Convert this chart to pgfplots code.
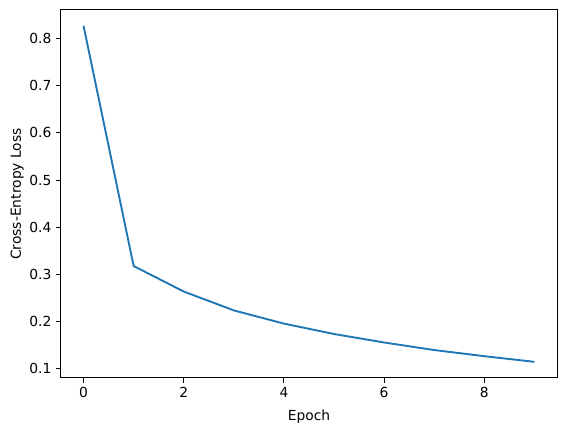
\documentclass[border=0pt]{standalone}
\usepackage{fontspec}
\setmainfont{DejaVu Sans}
\usepackage{pgfplots}
\pgfplotsset{compat=1.18}
\definecolor{mplblue}{HTML}{1F77B4}
\begin{document}
\fontsize{13.9}{16.5}\selectfont
\begin{tikzpicture}
\begin{axis}[
  scale only axis,
  width=496bp, height=368bp,
  xmin=-0.45, xmax=9.45,
  ymin=0.0808, ymax=0.8605,
  xtick={0,2,4,6,8},
  ytick={0.1,0.2,0.3,0.4,0.5,0.6,0.7,0.8},
  yticklabel style={/pgf/number format/.cd,fixed,fixed zerofill,precision=1},
  /pgf/number format/assume math mode=true,
  tick align=outside,
  tick pos=left,
  major tick length=4.86bp,
  every tick/.style={black, line width=1.0bp},
  axis line style={line width=1.0bp},
  xlabel={Epoch},
  ylabel={Cross-Entropy Loss},
  tick label style={font=\fontsize{13.9}{16.5}\selectfont},
  label style={font=\fontsize{13.9}{16.5}\selectfont},
  xlabel style={yshift=-2bp},
  ylabel style={yshift=-4bp},
]
\addplot[color=mplblue, line width=1.9bp, mark=none] coordinates {
(0,0.827) (1,0.318) (2,0.264) (3,0.224) (4,0.196) (5,0.174) (6,0.156) (7,0.140) (8,0.127) (9,0.115)
};
\end{axis}
\pgfresetboundingbox
\path ([shift={(-61bp,-54bp)}]current axis.south west) rectangle ([shift={(10bp,10bp)}]current axis.north east);
\end{tikzpicture}
\end{document}
